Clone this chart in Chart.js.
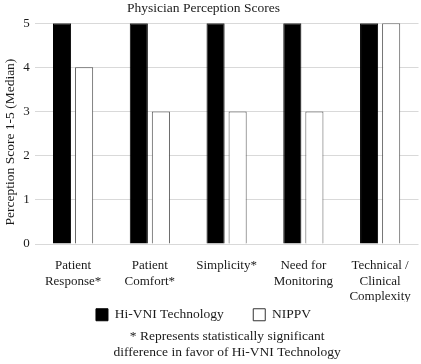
<!DOCTYPE html>
<html>
<head>
<meta charset="utf-8">
<script src="https://cdn.jsdelivr.net/npm/chart.js@4/dist/chart.umd.min.js"></script>
<style>
  html, body { margin: 0; padding: 0; background: #fff; }
  #wrap { width: 421px; height: 364px; }
</style>
</head>
<body>
<div id="wrap"><canvas id="chart" width="421" height="364"></canvas></div>
<script>
// Categories (multi-line tick labels)
const categories = [
    ['Patient', 'Response*'],
    ['Patient', 'Comfort*'],
    ['Simplicity*'],
    ['Need for', 'Monitoring'],
    ['Technical /', 'Clinical', 'Complexity']
];

// Median scores
const hiVniScores = [5, 5, 5, 5, 5];
const nippvScores = [4, 3, 3, 3, 5];

const yTicks = [0, 1, 2, 3, 4, 5];

const footnote = [
    '* Represents statistically significant',
    'difference in favor of Hi-VNI Technology'
];

const serif = "'Liberation Serif', 'DejaVu Serif', serif";
const ink = '#1a1a1a';

// Trailing / leading spaces nudge centred text the same way the original is offset
const pad = (s, before, after) => ' '.repeat(before) + s + ' '.repeat(after);

new Chart(document.getElementById('chart'), {
    type: 'bar',
    data: {
        labels: categories,
        datasets: [
            {
                label: 'Hi-VNI Technology',
                data: hiVniScores,
                backgroundColor: '#000',
                borderColor: '#000',
                borderWidth: 1
            },
            {
                label: 'NIPPV',
                data: nippvScores,
                backgroundColor: '#fff',
                borderColor: '#555',
                borderWidth: 1
            }
        ]
    },
    options: {
        responsive: false,
        animation: false,
        layout: { padding: { left: 2, right: 2.5, top: 0, bottom: 4 } },
        datasets: {
            bar: { categoryPercentage: 0.575, barPercentage: 0.82 }
        },
        plugins: {
            title: {
                display: true,
                text: pad('Physician Perception Scores', 0, 4),
                color: ink,
                font: { family: serif, size: 13.5, weight: 'normal' },
                padding: { top: 0, bottom: 7 }
            },
            legend: {
                position: 'bottom',
                maxHeight: 26,
                labels: {
                    color: ink,
                    font: { family: serif, size: 13.5 },
                    boxWidth: 12,
                    boxHeight: 12,
                    padding: 6,
                    generateLabels: chart => {
                        const items = Chart.defaults.plugins.legend.labels.generateLabels(chart);
                        items[0].text = pad(items[0].text, 0, 7);
                        items[1].text = pad(items[1].text, 0, 4);
                        items[1].strokeStyle = '#333';
                        return items;
                    }
                }
            },
            subtitle: {
                display: true,
                position: 'bottom',
                text: footnote.map(s => pad(s, 10, 0)),
                color: ink,
                font: { family: serif, size: 13.5, lineHeight: 1.185 },
                padding: { top: 0, bottom: 0 }
            },
            tooltip: { enabled: false }
        },
        scales: {
            x: {
                grid: { display: false, drawTicks: false },
                border: { display: false },
                ticks: {
                    color: ink,
                    font: { family: serif, size: 13, lineHeight: 1.2 },
                    maxRotation: 0,
                    autoSkip: false,
                    padding: 14
                },
                afterFit: scale => {
                    scale.height = 58;
                    // labels fit inside their categories, no side padding needed
                    scale.paddingLeft = 0;
                    scale.paddingRight = 0;
                }
            },
            y: {
                min: 0,
                max: 5,
                afterBuildTicks: axis => {
                    axis.ticks = yTicks.map(v => ({ value: v }));
                },
                grid: { color: '#d9d9d9', drawTicks: false },
                border: { display: false },
                ticks: {
                    color: ink,
                    font: { family: serif, size: 13 },
                    padding: 5
                },
                title: {
                    display: true,
                    text: pad('Perception Score 1-5 (Median)', 0, 5),
                    color: ink,
                    font: { family: serif, size: 13.5 },
                    padding: { top: 0, bottom: 0 }
                }
            }
        }
    }
});
</script>
</body>
</html>
